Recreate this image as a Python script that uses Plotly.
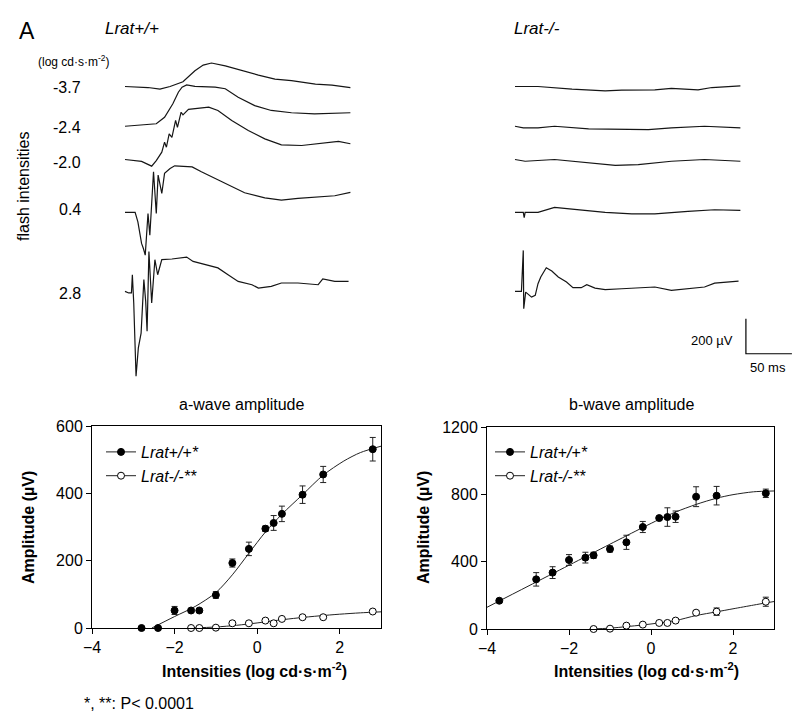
import plotly.graph_objects as go

# page is 800x719; the browser body adds an 8 px margin, so the figure itself is 792x711
PAGE_W, PAGE_H = 800, 719
OFF = 8
W, H = PAGE_W - OFF, PAGE_H - OFF
FONT = "Liberation Sans, Arial, Helvetica, sans-serif"

# ---------------- ERG traces: time (ms from trace start), amplitude (µV) ----------------
flash_labels = ["-3.7", "-2.4", "-2.0", "0.4", "2.8"]

# Lrat+/+
wt1_t = [0, 25, 38, 49, 63, 76, 85, 94, 109, 127, 145, 163, 181, 207, 225, 245]
wt1_uv = [0, -6, -15, 0, 27, 90, 122, 134, 118, 90, 65, 42, 33, 14, 8, -7]

wt2_t = [0, 22, 34, 43, 52, 58, 62, 67, 76, 98, 109, 123, 141, 159, 181, 206, 245]
wt2_uv = [0, 8, 14, 51, 128, 194, 223, 236, 228, 223, 214, 166, 118, 90, 77, 71, 77]

wt3_t = [0, 18, 29, 34, 40, 43, 45, 48, 51, 55, 57, 61, 63, 69, 91, 101, 116, 134, 152, 170, 192, 207, 232, 245]
wt3_uv = [0, -11, -38, -6, 42, 99, 70, 147, 127, 223, 184, 270, 255, 286, 299, 280, 223, 166, 118, 84, 80, 90, 103, 90]

wt4_t = [0, 11, 14, 18, 20, 22, 25, 27, 31, 34, 36, 40, 43, 49, 54, 73, 83, 98, 116, 130, 152, 170, 188, 206, 228, 245]
wt4_uv = [0, 0, -54, -177, -206, -244, -6, -130, 232, -6, 213, 108, 223, 251, 266, 260, 232, 194, 146, 112, 83, 70, 80, 86, 95, 114]

wt5_t = [0, 4, 7, 8, 9.5, 12, 14.5, 17.5, 20.5, 22.5, 24, 26, 29, 32.5, 35.5, 40, 51, 67, 74, 87, 101, 112, 123, 138, 145, 159, 170, 188, 210, 215, 228, 243]
wt5_uv = [0, -9, -9, 95, -66, -485, -323, -238, 67, -57, -228, 228, -66, 181, 95, 181, 185, 196, 171, 152, 134, 95, 57, 38, 19, 29, 48, 48, 38, 71, 57, 57]

# Lrat-/-
ko1_t = [0, 25, 62, 98, 116, 152, 170, 199, 214, 245]
ko1_uv = [0, 0, -15, -25, -21, -19, -11, -19, -6, 3]

ko2_t = [0, 9, 25, 43, 80, 116, 145, 170, 206, 245]
ko2_uv = [0, -9, -9, 0, -15, -15, -19, -9, 0, -9]

ko3_t = [0, 11, 43, 80, 109, 134, 170, 206, 245]
ko3_uv = [0, -10, 0, -19, -34, -29, -10, 0, -10]

ko4_t = [0, 9, 10, 11, 25, 43, 62, 98, 127, 152, 188, 217, 245]
ko4_uv = [0, 0, -30, 0, 0, 29, 19, 0, -8, -8, 6, 15, 11]

ko5_t = [0, 7, 9, 9.5, 11.6, 18, 22, 25, 28, 34, 40, 47, 56, 63, 72, 78, 87, 98, 116, 152, 170, 188, 206, 217, 228, 243]
ko5_uv = [0, 0, 234, -99, -4, -33, -23, 44, 82, 135, 116, 82, 53, 21, 21, 38, 19, 10, 15, 25, 6, 15, 25, 47, 53, 59]

scale_ms = 50
scale_uv = 200

# ---------------- a-wave amplitude ----------------
a_int_wt = [-2.8, -2.4, -2.0, -1.6, -1.4, -1.0, -0.6, -0.2, 0.2, 0.4, 0.6, 1.1, 1.6, 2.8]
a_amp_wt = [0, 0, 52, 52, 52, 98, 193, 235, 295, 312, 339, 396, 456, 531]
a_err_wt = [2, 2, 12, 5, 5, 10, 12, 20, 8, 22, 23, 26, 24, 35]

a_int_ko = [-1.6, -1.4, -1.0, -0.6, -0.2, 0.2, 0.4, 0.6, 1.1, 1.6, 2.8]
a_amp_ko = [0, 0, 1, 14, 14, 22, 14, 27, 32, 32, 49]
a_err_ko = [1, 1, 1, 3, 2, 3, 2, 3, 3, 3, 4]

a_fit_wt_x = [-2.55, -2.0, -1.5, -1.0, -0.6, -0.2, 0.2, 0.6, 1.1, 1.6, 2.1, 2.5, 3.0]
a_fit_wt_y = [0, 34, 64, 105, 158, 222, 285, 338, 396, 454, 496, 521, 540]
a_fit_ko_x = [-1.6, -1.0, -0.5, 0.0, 0.5, 1.0, 1.5, 2.0, 2.5, 3.0]
a_fit_ko_y = [0, 3, 8, 15, 23, 30, 36, 41, 45, 48]

# ---------------- b-wave amplitude ----------------
b_int_wt = [-3.7, -2.8, -2.4, -2.0, -1.6, -1.4, -1.0, -0.6, -0.2, 0.2, 0.4, 0.6, 1.1, 1.6, 2.8]
b_amp_wt = [168, 295, 335, 410, 424, 438, 475, 515, 606, 659, 665, 667, 786, 792, 806]
b_err_wt = [8, 40, 35, 32, 32, 18, 18, 42, 33, 10, 55, 34, 59, 55, 25]

b_int_ko = [-1.4, -1.0, -0.6, -0.2, 0.2, 0.4, 0.6, 1.1, 1.6, 2.8]
b_amp_ko = [0, 2, 20, 26, 36, 36, 50, 97, 103, 162]
b_err_ko = [2, 2, 4, 4, 4, 5, 5, 12, 22, 27]

b_fit_wt_x = [-4.0, -3.0, -2.0, -1.0, -0.2, 0.2, 0.6, 1.1, 1.6, 2.0, 2.5, 3.0]
b_fit_wt_y = [129, 254, 379, 504, 603, 651, 695, 740, 777, 798, 815, 820]
b_fit_ko_x = [-1.5, -1.0, -0.6, -0.2, 0.2, 0.6, 1.1, 1.6, 2.0, 2.5, 2.8, 3.0]
b_fit_ko_y = [0, 5, 14, 24, 36, 50, 80, 102, 120, 142, 155, 163]

x_ticks = [-4, -2, 0, 2]
a_ticks = [0, 200, 400, 600]
b_ticks = [0, 400, 800, 1200]

# ---------------- layout helpers (page pixel coordinates -> paper) ----------------
MS_PER_PX = 1.087
UV_PER_PX = 5.71
TRACE_BASE_UV = [1676, 1449, 1259, 957, 506]
SCALE_T0, SCALE_V0 = 251, 150


def px(x):
    return (x - OFF) / W


def py(y):
    return 1 - (y - OFF) / H


fig = go.Figure()

TRACE_LINE = dict(color="#151515", width=1.2)
wt_traces = [(wt1_t, wt1_uv), (wt2_t, wt2_uv), (wt3_t, wt3_uv), (wt4_t, wt4_uv), (wt5_t, wt5_uv)]
ko_traces = [(ko1_t, ko1_uv), (ko2_t, ko2_uv), (ko3_t, ko3_uv), (ko4_t, ko4_uv), (ko5_t, ko5_uv)]
for (t, uv), base in zip(wt_traces, TRACE_BASE_UV):
    fig.add_trace(go.Scatter(x=t, y=[v + base for v in uv], xaxis="x3", yaxis="y3",
                             mode="lines", line=TRACE_LINE, showlegend=False, hoverinfo="skip"))
for (t, uv), base in zip(ko_traces, TRACE_BASE_UV):
    fig.add_trace(go.Scatter(x=t, y=[v + base for v in uv], xaxis="x4", yaxis="y3",
                             mode="lines", line=TRACE_LINE, showlegend=False, hoverinfo="skip"))

# scale bar
fig.add_trace(go.Scatter(x=[SCALE_T0, SCALE_T0, SCALE_T0 + scale_ms],
                         y=[SCALE_V0 + scale_uv, SCALE_V0, SCALE_V0],
                         xaxis="x4", yaxis="y3", mode="lines",
                         line=dict(color="black", width=1.2), showlegend=False, hoverinfo="skip"))

FIT_LINE = dict(color="#222222", width=1, shape="spline", smoothing=0.8)
FILLED = dict(symbol="circle", size=7, color="black", line=dict(color="black", width=1))
OPEN = dict(symbol="circle", size=7, color="white", line=dict(color="black", width=1))


def err(a):
    return dict(type="data", array=a, visible=True, color="#222222", thickness=1, width=3)


for xa, ya, fx1, fy1, fx2, fy2, xw, yw, ew, xk, yk, ek, leg in [
    ("x", "y", a_fit_wt_x, a_fit_wt_y, a_fit_ko_x, a_fit_ko_y, a_int_wt, a_amp_wt, a_err_wt,
     a_int_ko, a_amp_ko, a_err_ko, "legend"),
    ("x2", "y2", b_fit_wt_x, b_fit_wt_y, b_fit_ko_x, b_fit_ko_y, b_int_wt, b_amp_wt, b_err_wt,
     b_int_ko, b_amp_ko, b_err_ko, "legend2"),
]:
    fig.add_trace(go.Scatter(x=fx1, y=fy1, xaxis=xa, yaxis=ya, mode="lines", line=FIT_LINE,
                             showlegend=False, hoverinfo="skip"))
    fig.add_trace(go.Scatter(x=fx2, y=fy2, xaxis=xa, yaxis=ya, mode="lines", line=FIT_LINE,
                             showlegend=False, hoverinfo="skip"))
    fig.add_trace(go.Scatter(x=xk, y=yk, error_y=err(ek), xaxis=xa, yaxis=ya, mode="markers",
                             marker=OPEN, showlegend=False, cliponaxis=False))
    fig.add_trace(go.Scatter(x=xw, y=yw, error_y=err(ew), xaxis=xa, yaxis=ya, mode="markers",
                             marker=FILLED, showlegend=False, cliponaxis=False))
    # legend entries
    fig.add_trace(go.Scatter(x=[None], y=[None], xaxis=xa, yaxis=ya, mode="lines+markers",
                             marker=FILLED, line=dict(color="#222222", width=1),
                             name="<i>Lrat+/+*</i>", legend=leg))
    fig.add_trace(go.Scatter(x=[None], y=[None], xaxis=xa, yaxis=ya, mode="lines+markers",
                             marker=OPEN, line=dict(color="#222222", width=1),
                             name="<i>Lrat-/-**</i>", legend=leg))

AX = dict(showline=True, linecolor="black", linewidth=1, mirror=True, ticks="outside",
          ticklen=5, tickwidth=1, tickcolor="black", showgrid=False, zeroline=False,
          automargin=False, tickfont=dict(family=FONT, size=16, color="black"))

HIDDEN = dict(visible=False, showgrid=False, zeroline=False, fixedrange=True, automargin=False)

LEG = dict(xanchor="left", yanchor="top", bgcolor="rgba(0,0,0,0)",
           font=dict(family=FONT, size=16, color="black"), itemwidth=30,
           tracegroupgap=0, borderwidth=0)

fig.update_layout(
    width=W, height=H, autosize=False,
    margin=dict(l=0, r=0, t=0, b=0, pad=0, autoexpand=False),
    paper_bgcolor="white", plot_bgcolor="white",
    font=dict(family=FONT, color="black"),
    xaxis=dict(AX, domain=[px(92), px(381)], range=[-4, 3], tickvals=x_ticks, anchor="y"),
    yaxis=dict(AX, domain=[py(628), py(426)], range=[0, 600], tickvals=a_ticks, anchor="x"),
    xaxis2=dict(AX, domain=[px(487), px(774)], range=[-4, 3], tickvals=x_ticks, anchor="y2"),
    yaxis2=dict(AX, domain=[py(629), py(427)], range=[0, 1200], tickvals=b_ticks, anchor="x2"),
    xaxis3=dict(HIDDEN, domain=[px(110), px(360)],
                range=[-(125 - 110) * MS_PER_PX, (360 - 125) * MS_PER_PX], anchor="y3"),
    xaxis4=dict(HIDDEN, domain=[px(500), px(PAGE_W)],
                range=[-(515 - 500) * MS_PER_PX, (PAGE_W - 515) * MS_PER_PX], anchor="y3"),
    yaxis3=dict(HIDDEN, domain=[py(380), py(OFF)],
                range=[0, (380 - OFF) * UV_PER_PX], anchor="x3"),
    legend=dict(LEG, x=px(101), y=py(435)),
    legend2=dict(LEG, x=px(490), y=py(435)),
)

ann = []


def text(x, y, s, size, xanchor="center", yanchor="middle", angle=0):
    ann.append(dict(x=px(x), y=py(y), xref="paper", yref="paper", text=s, showarrow=False,
                    xanchor=xanchor, yanchor=yanchor, textangle=angle,
                    font=dict(family=FONT, size=size, color="black")))


text(17, 31, "A", 23, xanchor="left")
text(103, 29, "<i>Lrat+/+</i>", 17, xanchor="left")
text(512, 29, "<i>Lrat-/-</i>", 17, xanchor="left")
text(36, 61, "(log cd·s·m<sup>-2</sup>)", 12, xanchor="left")
for lab, y in zip(flash_labels, [87, 127, 162, 210, 293]):
    text(83, y, lab, 16, xanchor="right")
text(24, 187, "flash intensities", 16, angle=-90)
text(735, 340, "200 µV", 13, xanchor="right")
text(768, 367, "50 ms", 13)

text(242, 404, "a-wave amplitude", 16)
text(632, 404, "b-wave amplitude", 16)
text(28, 528, "<b>Amplitude (µV)</b>", 16, angle=-90)
text(423, 528, "<b>Amplitude (µV)</b>", 16, angle=-90)
text(254, 670, "<b>Intensities (log cd·s·m<sup>-2</sup>)</b>", 16)
text(646, 670, "<b>Intensities (log cd·s·m<sup>-2</sup>)</b>", 16)
text(82, 703, "*, **: P< 0.0001", 16, xanchor="left")

fig.update_layout(annotations=ann)

fig.write_html("out.html")
